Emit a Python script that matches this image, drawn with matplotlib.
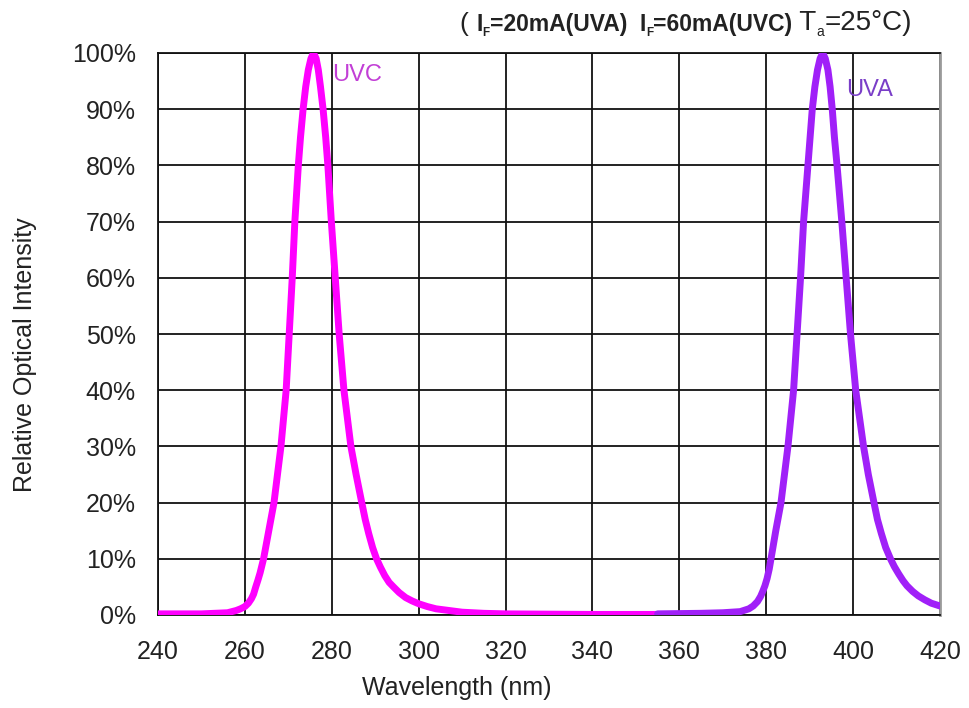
import matplotlib
matplotlib.use("Agg")
import matplotlib.pyplot as plt
from matplotlib.ticker import FuncFormatter

plt.rcParams["font.family"] = ["Liberation Sans", "DejaVu Sans"]

# UVC spectrum (nm, relative intensity %)
UVC_NM = [240, 250, 256, 258, 259, 260, 260.8, 261.5, 262, 262.5, 263, 263.5, 264.3,
          265.5, 266.7, 267.5, 268.3, 269.5, 270.2, 270.9, 271.5, 272.3, 272.8, 273.4,
          274.0, 274.6, 275.2, 275.8, 276.4, 276.9, 277.4, 278.0, 278.6, 279.1, 279.9,
          280.8, 281.7, 282.8, 283.6, 284.4, 285.6, 286.9, 287.7, 288.5, 289.4, 290.3,
          291.2, 292.2, 293.2, 294.2, 295.5, 297, 298.5, 300, 302, 304, 307, 310, 315,
          320, 340, 360]
UVC_PCT = [0.2, 0.2, 0.4, 0.8, 1.1, 1.5, 2.1, 2.9, 3.7, 5, 6.2, 7.5, 10,
           15, 20, 25, 30, 40, 50, 60, 70, 80, 85, 90,
           94, 97, 99, 100, 99, 97, 94, 90, 85, 80, 70,
           60, 50, 40, 35, 30, 25, 20, 17, 14.5, 12, 10,
           8.5, 7, 5.8, 5, 4, 3.1, 2.5, 2, 1.5, 1.1, 0.8, 0.5, 0.3,
           0.2, 0.1, 0.1]

# UVA spectrum
UVA_NM = [355, 365, 370, 374, 376, 377, 378, 378.7, 379.2, 379.7, 380.2, 380.7, 381.1,
          382.2, 383.4, 384.2, 385.0, 386.3, 387.1, 387.9, 388.6, 389.1, 389.6, 390.1,
          390.6, 391.2, 391.8, 392.4, 393.0, 393.6, 394.2, 394.7, 395.2, 395.7, 396.3,
          397.4, 398.4, 399.4, 400.6, 401.5, 402.4, 403.5, 404.8, 405.6, 406.5, 407.5,
          408.6, 409.5, 410.5, 411.5, 412.4, 413.7, 415, 416.5, 418, 420]
UVA_PCT = [0.2, 0.3, 0.4, 0.6, 1.1, 1.6, 2.4, 3.3, 4.2, 5.2, 6.5, 8.2, 10,
           15, 20, 25, 30, 40, 50, 60, 70, 75, 80, 85,
           90, 94, 97, 99, 100, 99, 97, 94, 90, 85, 80,
           70, 60, 50, 40, 35, 30, 25, 20, 17, 14.5, 12,
           10, 8.6, 7.3, 6.1, 5.2, 4.2, 3.4, 2.7, 2.1, 1.6]

X_TICKS = list(range(240, 421, 20))
Y_TICKS = list(range(0, 101, 10))

UVC_COLOR = "#ff00ff"
UVA_COLOR = "#a020f8"
TEXT_COLOR = "#222222"

# title pieces: text, weight, size, vertical offset in points
TITLE_PIECES = [
    ("( ", "normal", 19, 0),
    ("I", "bold", 16.5, 0),
    ("F", "bold", 8.5, -2),
    ("=20mA(UVA)  ", "bold", 16.5, 2),
    ("I", "bold", 16.5, 0),
    ("F", "bold", 8.5, -2),
    ("=60mA(UVC)", "bold", 16.5, 2),
    (" T", "normal", 20, 0),
    ("a", "normal", 10, -2),
    ("=25\u00b0C)", "normal", 20, 2),
]


def main():
    fig = plt.figure(figsize=(9.7, 7.08), dpi=100)
    ax = fig.add_axes([158 / 970, 93 / 708, 782 / 970, 562 / 708])

    ax.plot(UVC_NM, UVC_PCT, color=UVC_COLOR, linewidth=5, solid_joinstyle="round",
            solid_capstyle="round", zorder=3)
    ax.plot(UVA_NM, UVA_PCT, color=UVA_COLOR, linewidth=5, solid_joinstyle="round",
            solid_capstyle="round", zorder=4)

    ax.text(280, 96, "UVC", color="#c23fd6", fontsize=17, va="center", ha="left")
    ax.text(398.5, 93.4, "UVA", color="#7a3ec8", fontsize=17, va="center", ha="left")

    ax.set_xlim(240, 420)
    ax.set_ylim(0, 100)
    ax.set_xticks(X_TICKS)
    ax.set_yticks(Y_TICKS)
    ax.yaxis.set_major_formatter(FuncFormatter(lambda v, _: f"{int(v)}%"))
    ax.grid(True, color="#111111", linewidth=1.3)
    ax.set_axisbelow(True)
    ax.tick_params(length=0, labelsize=18, colors=TEXT_COLOR)
    ax.tick_params(axis="y", pad=16)
    ax.tick_params(axis="x", pad=18)

    for side in ["left", "bottom", "top"]:
        ax.spines[side].set_color("#111111")
        ax.spines[side].set_linewidth(1.3)
    ax.spines["right"].set_color("#9a9a9a")
    ax.spines["right"].set_linewidth(2)

    ax.set_xlabel("Wavelength (nm)", fontsize=18, color=TEXT_COLOR)
    ax.xaxis.set_label_coords((457 - 158) / 782, -(688 - 615) / 562)
    ax.set_ylabel("Relative Optical Intensity", fontsize=18, color=TEXT_COLOR)
    ax.yaxis.set_label_coords(-(158 - 25) / 782, (615 - 355) / 562)
    ax.xaxis.label.set_va("center")
    ax.yaxis.label.set_va("center")

    # title in pieces (bold currents, subscripts, normal temperature)
    first = TITLE_PIECES[0]
    prev = fig.text(460 / 970, 1 - 31 / 708, first[0], fontsize=first[2],
                    fontweight=first[1], va="baseline", color=TEXT_COLOR)
    for txt, weight, size, dy in TITLE_PIECES[1:]:
        prev = ax.annotate(txt, xy=(1, 0), xycoords=prev, xytext=(0, dy),
                           textcoords="offset points", fontsize=size, fontweight=weight,
                           va="bottom", ha="left", color=TEXT_COLOR,
                           annotation_clip=False)

    fig.savefig("out.png", dpi=100)
    plt.close(fig)


if __name__ == "__main__":
    main()
